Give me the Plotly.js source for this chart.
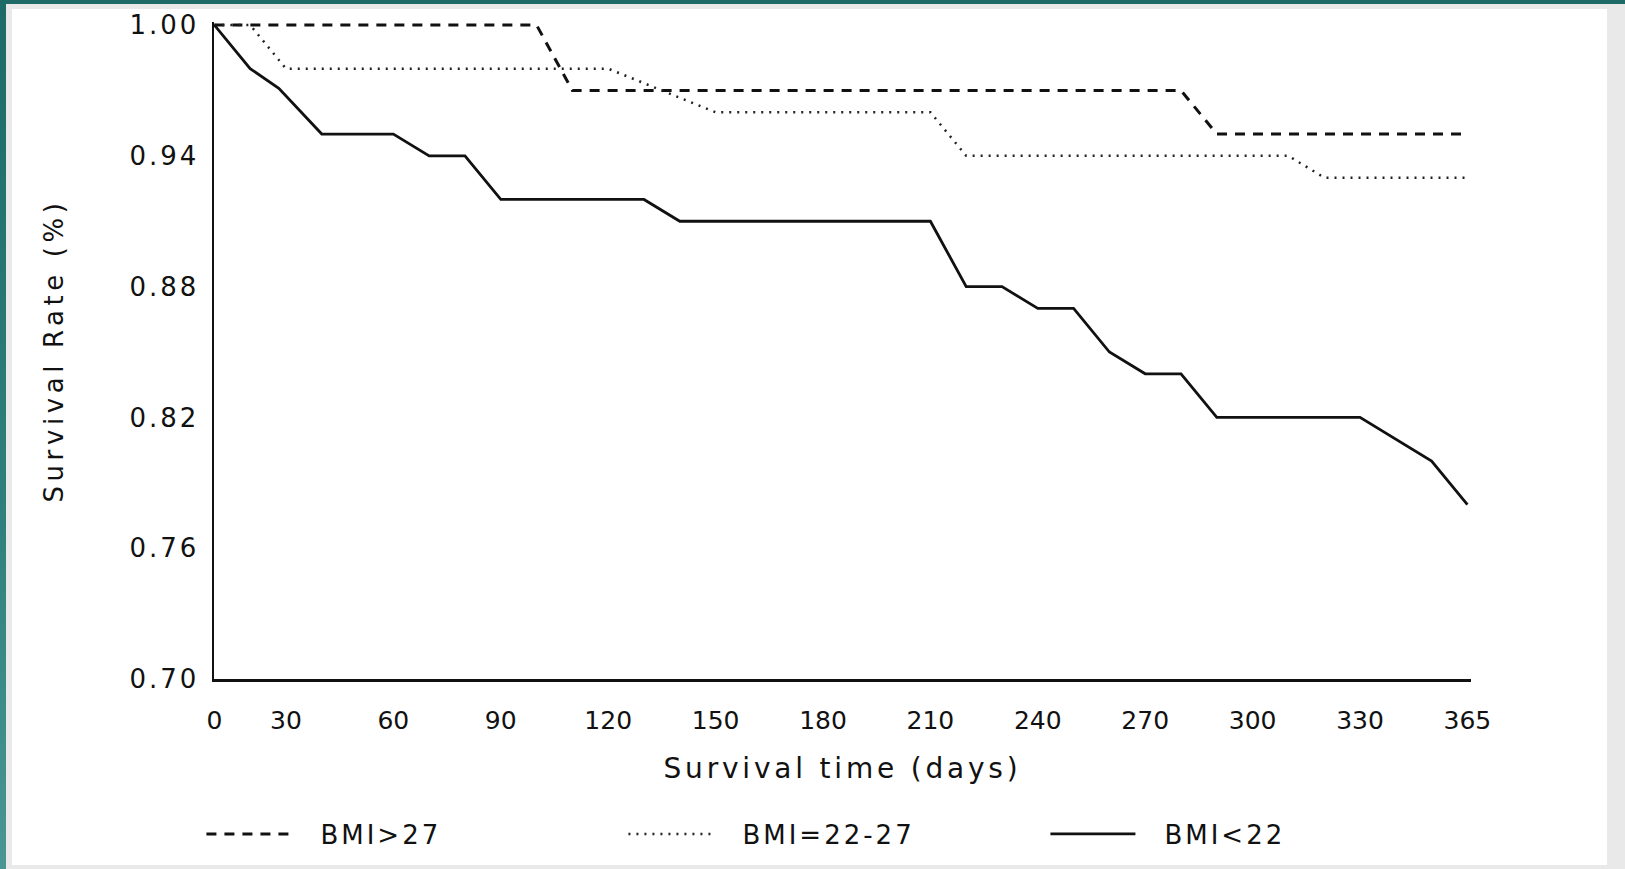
<!DOCTYPE html>
<html>
<head>
<meta charset="utf-8">
<script src="https://cdn.plot.ly/plotly-3.0.1.min.js"></script>
<style>
  html, body { margin: 0; padding: 0; }
  #frame { position: absolute; left: 0; top: 0; width: 1625px; height: 869px;
           background: linear-gradient(180deg, #1d6a66 0%, #2f807c 60%, #4a9692 100%); overflow: hidden; }
  #band { position: absolute; left: 6px; top: 4px; right: 0; bottom: 0; background: #e9e9e9; }
  #chart { position: absolute; left: 12px; top: 9px; width: 1595px; height: 856px; background: #ffffff; }
  #chart .ytick text { letter-spacing: 3px; }
  #chart text.xtitle { letter-spacing: 3.8px; }
  #chart text.ytitle { letter-spacing: 4.6px; }
  #chart text.legendtext { letter-spacing: 3px; transform: translateX(24px); }
</style>
</head>
<body>
<div id="frame"><div id="band"></div><div id="chart"></div></div>
<script>
// Survival time (days, read against the printed tick labels)
const daysBmiGt27 = [10, 100, 110, 280, 290, 360];
const survBmiGt27 = [1.00, 1.00, 0.97, 0.97, 0.95, 0.95];

const daysBmi22to27 = [10, 20, 30, 120, 150, 210, 220, 310, 320, 360];
const survBmi22to27 = [1.00, 1.00, 0.98, 0.98, 0.96, 0.96, 0.94, 0.94, 0.93, 0.93];

const daysBmiLt22 = [10, 20, 28, 40, 60, 70, 80, 90, 130, 140, 210, 220, 230, 240, 250, 260, 270, 280, 290, 330, 350, 360];
const survBmiLt22 = [1.00, 0.98, 0.971, 0.95, 0.95, 0.94, 0.94, 0.92, 0.92, 0.91, 0.91, 0.88, 0.88, 0.87, 0.87, 0.85, 0.84, 0.84, 0.82, 0.82, 0.80, 0.78];

const seriesNames = ["BMI>27", "BMI=22-27", "BMI<22"];

const xTickVals = [10, 30, 60, 90, 120, 150, 180, 210, 240, 270, 300, 330, 360];
const xTickText = ["0", "30", "60", "90", "120", "150", "180", "210", "240", "270", "300", "330", "365"];
const yTickVals = [0.70, 0.76, 0.82, 0.88, 0.94, 1.00];

const FONT = "DejaVu Sans, sans-serif";

const traces = [
  { x: daysBmiGt27, y: survBmiGt27, name: seriesNames[0], mode: "lines",
    line: { color: "#111111", width: 3, dash: "10px,8px" } },
  { x: daysBmi22to27, y: survBmi22to27, name: seriesNames[1], mode: "lines",
    line: { color: "#222222", width: 2.5, dash: "2px,6px" } },
  { x: daysBmiLt22, y: survBmiLt22, name: seriesNames[2], mode: "lines",
    line: { color: "#111111", width: 2.8 } }
];

const layout = {
  width: 1595, height: 856,
  margin: { l: 202, r: 136, t: 13, b: 186, autoexpand: false },
  paper_bgcolor: "#ffffff", plot_bgcolor: "#ffffff",
  font: { family: FONT, color: "#111111", size: 25 },
  showlegend: true,
  legend: {
    orientation: "h", x: -0.01, xanchor: "left", y: -0.236, yanchor: "middle",
    entrywidth: 322, entrywidthmode: "pixels", itemwidth: 85,
    font: { family: FONT, size: 26, color: "#111111" },
    bgcolor: "rgba(0,0,0,0)", traceorder: "normal"
  },
  xaxis: {
    range: [9.9, 361], tickvals: xTickVals, ticktext: xTickText,
    showgrid: false, zeroline: false,
    showline: true, linecolor: "#111111", linewidth: 2.5,
    ticks: "outside", ticklen: 17, tickcolor: "rgba(0,0,0,0)",
    tickfont: { family: FONT, size: 25, color: "#111111" },
    title: { text: "Survival time (days)", standoff: 25,
             font: { family: FONT, size: 28, color: "#111111" } }
  },
  yaxis: {
    range: [0.70, 1.0014], tickvals: yTickVals, tickformat: ".2f",
    showgrid: false, zeroline: false,
    showline: true, linecolor: "#111111", linewidth: 2.5,
    ticks: "outside", ticklen: 7, tickcolor: "rgba(0,0,0,0)",
    tickfont: { family: FONT, size: 26, color: "#111111" },
    title: { text: "Survival Rate (%)", standoff: 71,
             font: { family: FONT, size: 26, color: "#111111" } }
  }
};

Plotly.newPlot("chart", traces, layout, { displayModeBar: false, staticPlot: true });
</script>
</body>
</html>
